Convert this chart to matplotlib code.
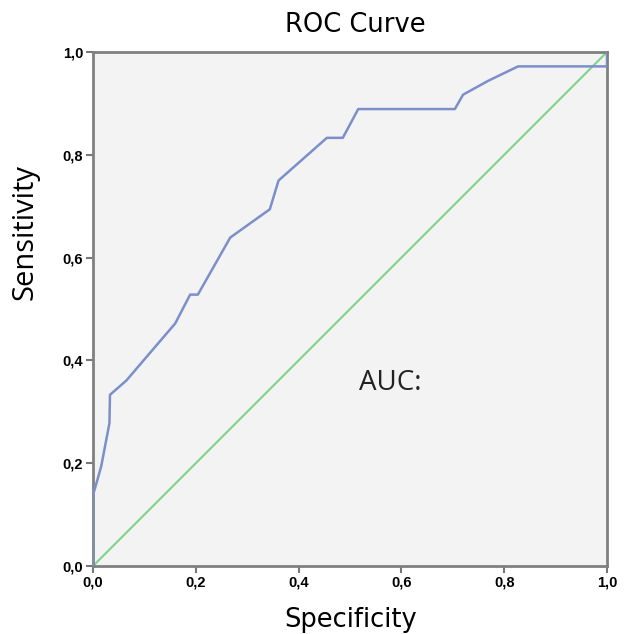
import matplotlib
import matplotlib.pyplot as plt
from matplotlib.ticker import FuncFormatter

matplotlib.use("Agg")

# 1 - specificity (x) and sensitivity (y)
fpr = [0.0, 0.0, 0.003, 0.016, 0.032, 0.033, 0.065, 0.16, 0.189, 0.204,
       0.267, 0.344, 0.361, 0.455, 0.486, 0.516, 0.704, 0.72, 0.769, 0.827,
       1.0, 1.0]
tpr = [0.0, 0.139, 0.148, 0.194, 0.278, 0.333, 0.361, 0.472, 0.528, 0.528,
       0.639, 0.694, 0.75, 0.833, 0.833, 0.889, 0.889, 0.917, 0.944, 0.972,
       0.972, 1.0]
ref_line = [0.0, 1.0]
ticks = [0.0, 0.2, 0.4, 0.6, 0.8, 1.0]

W, H = 628, 634
fig = plt.figure(figsize=(W / 100, H / 100), dpi=100)
ax = fig.add_axes([93 / W, 68 / H, 514 / W, 514 / H])
ax.set_facecolor("#f3f3f3")

ax.plot(ref_line, ref_line, color="#7fd48a", linewidth=1.5, zorder=2)
ax.plot(fpr, tpr, color="#7b8fca", linewidth=1.8, zorder=3)

ax.set_xlim(0, 1)
ax.set_ylim(0, 1)
ax.set_xticks(ticks)
ax.set_yticks(ticks)
comma = FuncFormatter(lambda v, p: f"{v:.1f}".replace(".", ","))
ax.xaxis.set_major_formatter(comma)
ax.yaxis.set_major_formatter(comma)
ax.tick_params(direction="out", length=5, width=1.5, color="#777777", pad=2,
               labelsize=10.5, labelfontfamily="Liberation Sans")
for lab in ax.get_xticklabels() + ax.get_yticklabels():
    lab.set_fontweight("bold")

for sp in ax.spines.values():
    sp.set_color("#808080")
    sp.set_linewidth(2)

ax.text(0.578, 0.356, "AUC:", fontsize=20, ha="center", va="center",
        fontfamily="Open Sans", color="#222222")

fig.text(355 / W, 1 - 25 / H, "ROC Curve", fontsize=18.5, fontfamily="DejaVu Sans",
         ha="center", va="center")
fig.text(351 / W, 1 - 620 / H, "Specificity", fontsize=18.5, fontfamily="DejaVu Sans",
         ha="center", va="center")
fig.text(25 / W, 1 - 232 / H, "Sensitivity", fontsize=21, fontfamily="Open Sans",
         ha="center", va="center", rotation=90)

plt.savefig("out.png", dpi=100)
plt.close()
